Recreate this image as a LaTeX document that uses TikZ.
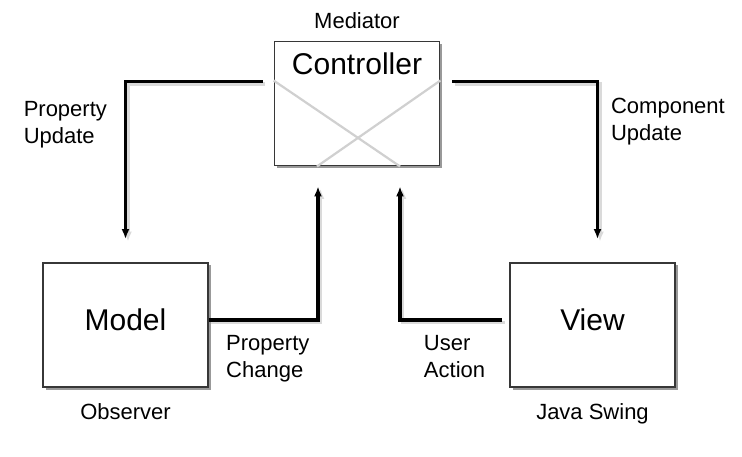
\documentclass[tikz,border=0pt]{standalone}
\usepackage{fontspec}
\setmainfont{Liberation Sans}
\usetikzlibrary{
  arrows.meta,
  calc,
  positioning,
  shadows,
}
\definecolor{cFrame}{RGB}{55,55,55}
\definecolor{cCross}{RGB}{208,208,208}
\definecolor{cShade}{RGB}{218,218,218}
\tikzset{
  % Component box
  box/.style={
    rectangle, draw=cFrame, line width=1.8pt, fill=white,
    minimum width=165pt, minimum height=124pt, inner sep=0pt,
    drop shadow={shadow xshift=2.5pt, shadow yshift=-2.5pt, fill=black, opacity=0.4},
  },
  % Box title
  title/.style={font=\fontsize{30}{34}\selectfont, inner sep=0pt},
  % Small label
  lbl/.style={font=\fontsize{22}{27}\selectfont, align=left, inner sep=0pt},
  % Arrow
  arr/.style={
    -{Latex[length=10pt, width=8pt]}, line width=3.2pt,
    preaction={draw=cShade, line width=3.5pt, transform canvas={shift={(2.5pt,-2.5pt)}}},
  },
  % Faint cross inside the controller
  crossline/.style={draw=cCross, line width=2.2pt},
}

\begin{document}
\begin{tikzpicture}[x=1pt, y=-1pt]
\useasboundingbox (0,0) rectangle (742,457);

% ── Boxes ──────────────────────────────────────────────────────────────────────
\node[box] (ctrl) at (357,103.5) {};
\node[box] (model) at (125.5,325) {};
\node[box] (view) at (592.5,325) {};

\draw[crossline] ([yshift=23pt]ctrl.west) -- ([xshift=43pt]ctrl.south);
\draw[crossline] ([yshift=23pt]ctrl.east) -- ([xshift=-40pt]ctrl.south);

\node[title, anchor=north] (ctrltitle) at ([yshift=-12pt]ctrl.north) {Controller};
\node[title] (modeltitle) at ([yshift=5pt]model.center) {Model};
\node[title] (viewtitle) at ([yshift=5pt]view.center) {View};

% Pattern roles
\node[lbl, above=12pt of ctrl] (mediator) {Mediator};
\node[lbl, below=15pt of model] (observer) {Observer};
\node[lbl, below=15pt of view] (swing) {Java Swing};

% ── Connectors ─────────────────────────────────────────────────────────────────
\draw[arr, shorten <=11pt, shorten >=23pt]
  ([yshift=22pt]ctrl.west) -| node[lbl, pos=0.62, left=17pt] (pupdate) {Property\\Update}
  (model.north);
\draw[arr, shorten <=12pt, shorten >=23pt]
  ([yshift=22pt]ctrl.east) -| node[lbl, pos=0.61, right=12pt] (cupdate) {Component\\Update}
  ([xshift=5pt]view.north);

\draw[arr, shorten >=20pt]
  ([yshift=5pt]model.east) -| node[lbl, pos=0.27, below=14pt] (pchange) {Property\\Change}
  ([xshift=-39pt]ctrl.south);
\draw[arr, shorten <=7pt, shorten >=20pt]
  ([yshift=5pt]view.west) -| node[lbl, pos=0.25, below=14pt] (uaction) {User\\Action}
  ([xshift=43pt]ctrl.south);

\end{tikzpicture}
\end{document}
